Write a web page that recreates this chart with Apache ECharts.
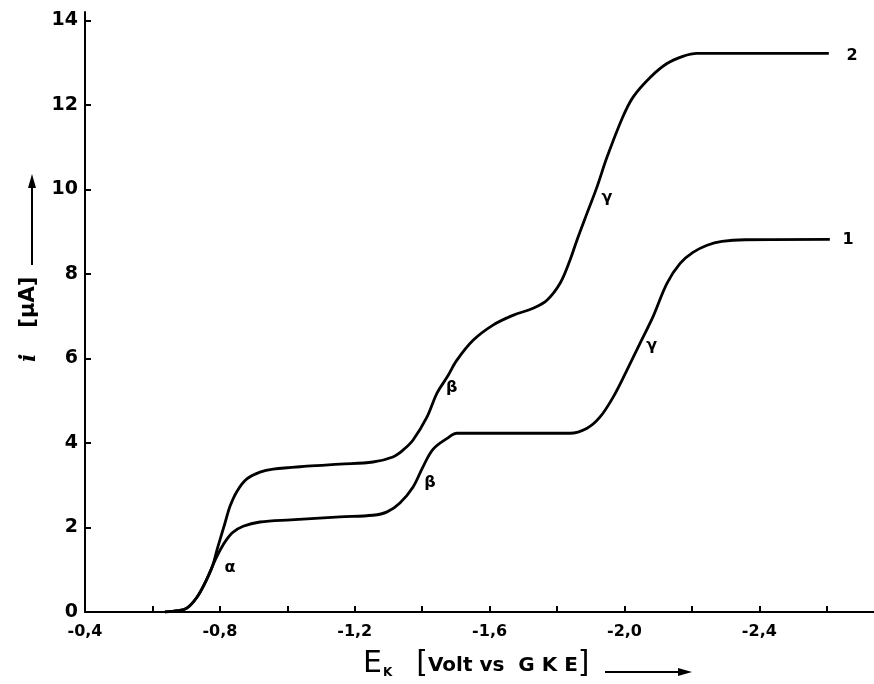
<!DOCTYPE html>
<html>
<head>
<meta charset="utf-8">
<script src="https://cdn.jsdelivr.net/npm/echarts@6/dist/echarts.min.js"></script>
<style>html,body{margin:0;padding:0;background:#fff}#c{width:874px;height:684px}</style>
</head>
<body>
<div id="c"></div>
<script>
// Potential E_K (V vs GKE) and current i (µA)
const curve1X = [-0.637,-0.676,-0.702,-0.732,-0.756,-0.786,-0.809,-0.836,-0.869,-0.919,-1.010,-1.156,-1.254,-1.296,-1.334,-1.373,-1.402,-1.432,-1.474,-1.503,-1.631,-1.838,-1.889,-1.927,-1.966,-2.007,-2.046,-2.084,-2.126,-2.165,-2.203,-2.245,-2.289,-2.357,-2.609];
const curve1Y = [0,0.03,0.09,0.35,0.69,1.23,1.58,1.87,2.03,2.13,2.18,2.25,2.29,2.37,2.58,2.96,3.43,3.85,4.11,4.23,4.23,4.23,4.35,4.61,5.08,5.72,6.36,6.98,7.78,8.25,8.51,8.68,8.77,8.81,8.82];
const curve2X = [-0.637,-0.676,-0.702,-0.732,-0.756,-0.777,-0.794,-0.815,-0.830,-0.851,-0.880,-0.919,-0.958,-1.058,-1.156,-1.254,-1.313,-1.343,-1.373,-1.414,-1.444,-1.474,-1.503,-1.551,-1.610,-1.669,-1.729,-1.770,-1.809,-1.838,-1.859,-1.889,-1.918,-1.948,-1.993,-2.025,-2.076,-2.126,-2.173,-2.215,-2.606];
const curve2Y = [0,0.03,0.09,0.35,0.69,1.06,1.54,2.10,2.50,2.86,3.15,3.31,3.38,3.45,3.50,3.55,3.67,3.83,4.07,4.61,5.18,5.56,5.96,6.43,6.79,7.02,7.19,7.38,7.78,8.32,8.80,9.44,10.05,10.76,11.68,12.18,12.65,12.98,13.15,13.22,13.22];
const curve1Names = ['α','β','γ','1'];
const curve1NameX = [-0.830,-1.423,-2.081,-2.663];
const curve1NameY = [1.04,3.05,6.31,8.80];
const curve2Names = ['β','γ','2'];
const curve2NameX = [-1.488,-1.948,-2.675];
const curve2NameY = [5.30,9.81,13.17];
const xTickValues = [-0.4,-0.6,-0.8,-1.0,-1.2,-1.4,-1.6,-1.8,-2.0,-2.2,-2.4,-2.6];
const xLabelValues = [-0.4,-0.8,-1.2,-1.6,-2.0,-2.4];
const yTickValues = [0,2,4,6,8,10,12,14];

const zip = (xs, ys) => xs.map((x, i) => [x, ys[i]]);
const marks = (names, xs, ys) => names.map((n, i) => ({name: n, coord: [xs[i], ys[i]]}));

const chart = echarts.init(document.getElementById('c'), null, {renderer: 'canvas'});
const markStyle = {
  symbol: 'circle', symbolSize: 1,
  itemStyle: {color: 'rgba(0,0,0,0)'},
  label: {show: true, position: 'inside', formatter: p => p.name, color: '#000',
          fontFamily: 'DejaVu Sans', fontWeight: 'bold', fontSize: 16},
  animation: false
};
chart.setOption({
  animation: false,
  backgroundColor: '#fff',
  grid: {left: 85, right: 0, top: 12, bottom: 72, outerBoundsMode: 'none'},
  xAxis: {
    type: 'value', inverse: true, min: -2.74, max: -0.4,
    axisLine: {lineStyle: {color: '#000', width: 2}},
    axisTick: {show: true, inside: true, length: 6, customValues: xTickValues, lineStyle: {color: '#000', width: 2}},
    axisLabel: {customValues: xLabelValues, margin: 12, color: '#000', fontFamily: 'DejaVu Sans', fontWeight: 'bold', fontSize: 16,
                formatter: v => v.toFixed(1).replace('.', ',')},
    splitLine: {show: false}
  },
  yAxis: {
    type: 'value', min: 0, max: 14.2,
    axisLine: {show: true, lineStyle: {color: '#000', width: 2}},
    axisTick: {show: true, inside: true, length: 6, customValues: yTickValues, lineStyle: {color: '#000', width: 2}},
    axisLabel: {customValues: yTickValues, margin: 7, color: '#000', fontFamily: 'DejaVu Sans', fontWeight: 'bold', fontSize: 19},
    splitLine: {show: false}
  },
  series: [
    {name: '1', type: 'line', data: zip(curve1X, curve1Y), showSymbol: false, smooth: 0.35,
     lineStyle: {color: '#000', width: 2.8}, itemStyle: {color: '#000'},
     markPoint: Object.assign({data: marks(curve1Names, curve1NameX, curve1NameY)}, markStyle)},
    {name: '2', type: 'line', data: zip(curve2X, curve2Y), showSymbol: false, smooth: 0.35,
     lineStyle: {color: '#000', width: 2.8}, itemStyle: {color: '#000'},
     markPoint: Object.assign({data: marks(curve2Names, curve2NameX, curve2NameY)}, markStyle)}
  ],
  graphic: [
    {type: 'text', left: 363, top: 649, style: {
      text: '{e|E}{k|K}{b|[}{v|Volt vs  G K E}{b|]}',
      rich: {
        e: {fontFamily: 'DejaVu Sans', fontSize: 30, fill: '#000', verticalAlign: 'bottom'},
        k: {fontFamily: 'DejaVu Sans', fontWeight: 'bold', fontSize: 12, fill: '#000', verticalAlign: 'bottom', padding: [0,24,0,1]},
        b: {fontFamily: 'DejaVu Sans', fontSize: 30, fill: '#000', verticalAlign: 'bottom'},
        v: {fontFamily: 'DejaVu Sans', fontWeight: 'bold', fontSize: 20, fill: '#000', verticalAlign: 'bottom', padding: [0,0,3,0]}
      }}},
    {type: 'line', shape: {x1: 605, y1: 672, x2: 682, y2: 672}, style: {stroke: '#000', lineWidth: 2}},
    {type: 'polygon', shape: {points: [[692,672],[678,668],[678,676]]}, style: {fill: '#000'}},
    {type: 'text', x: 29, y: 362, rotation: Math.PI / 2, style: {
      text: '{i|i}{m|[μA]}',
      verticalAlign: 'middle', align: 'left',
      rich: {
        i: {fontFamily: 'DejaVu Serif', fontStyle: 'italic', fontWeight: 'bold', fontSize: 22, fill: '#000', padding: [0,26,0,0]},
        m: {fontFamily: 'DejaVu Sans', fontWeight: 'bold', fontSize: 21, fill: '#000'}
      }}},
    {type: 'line', shape: {x1: 32, y1: 265, x2: 32, y2: 186}, style: {stroke: '#000', lineWidth: 2}},
    {type: 'polygon', shape: {points: [[32,174],[28,188],[36,188]]}, style: {fill: '#000'}}
  ]
});
</script>
</body>
</html>
